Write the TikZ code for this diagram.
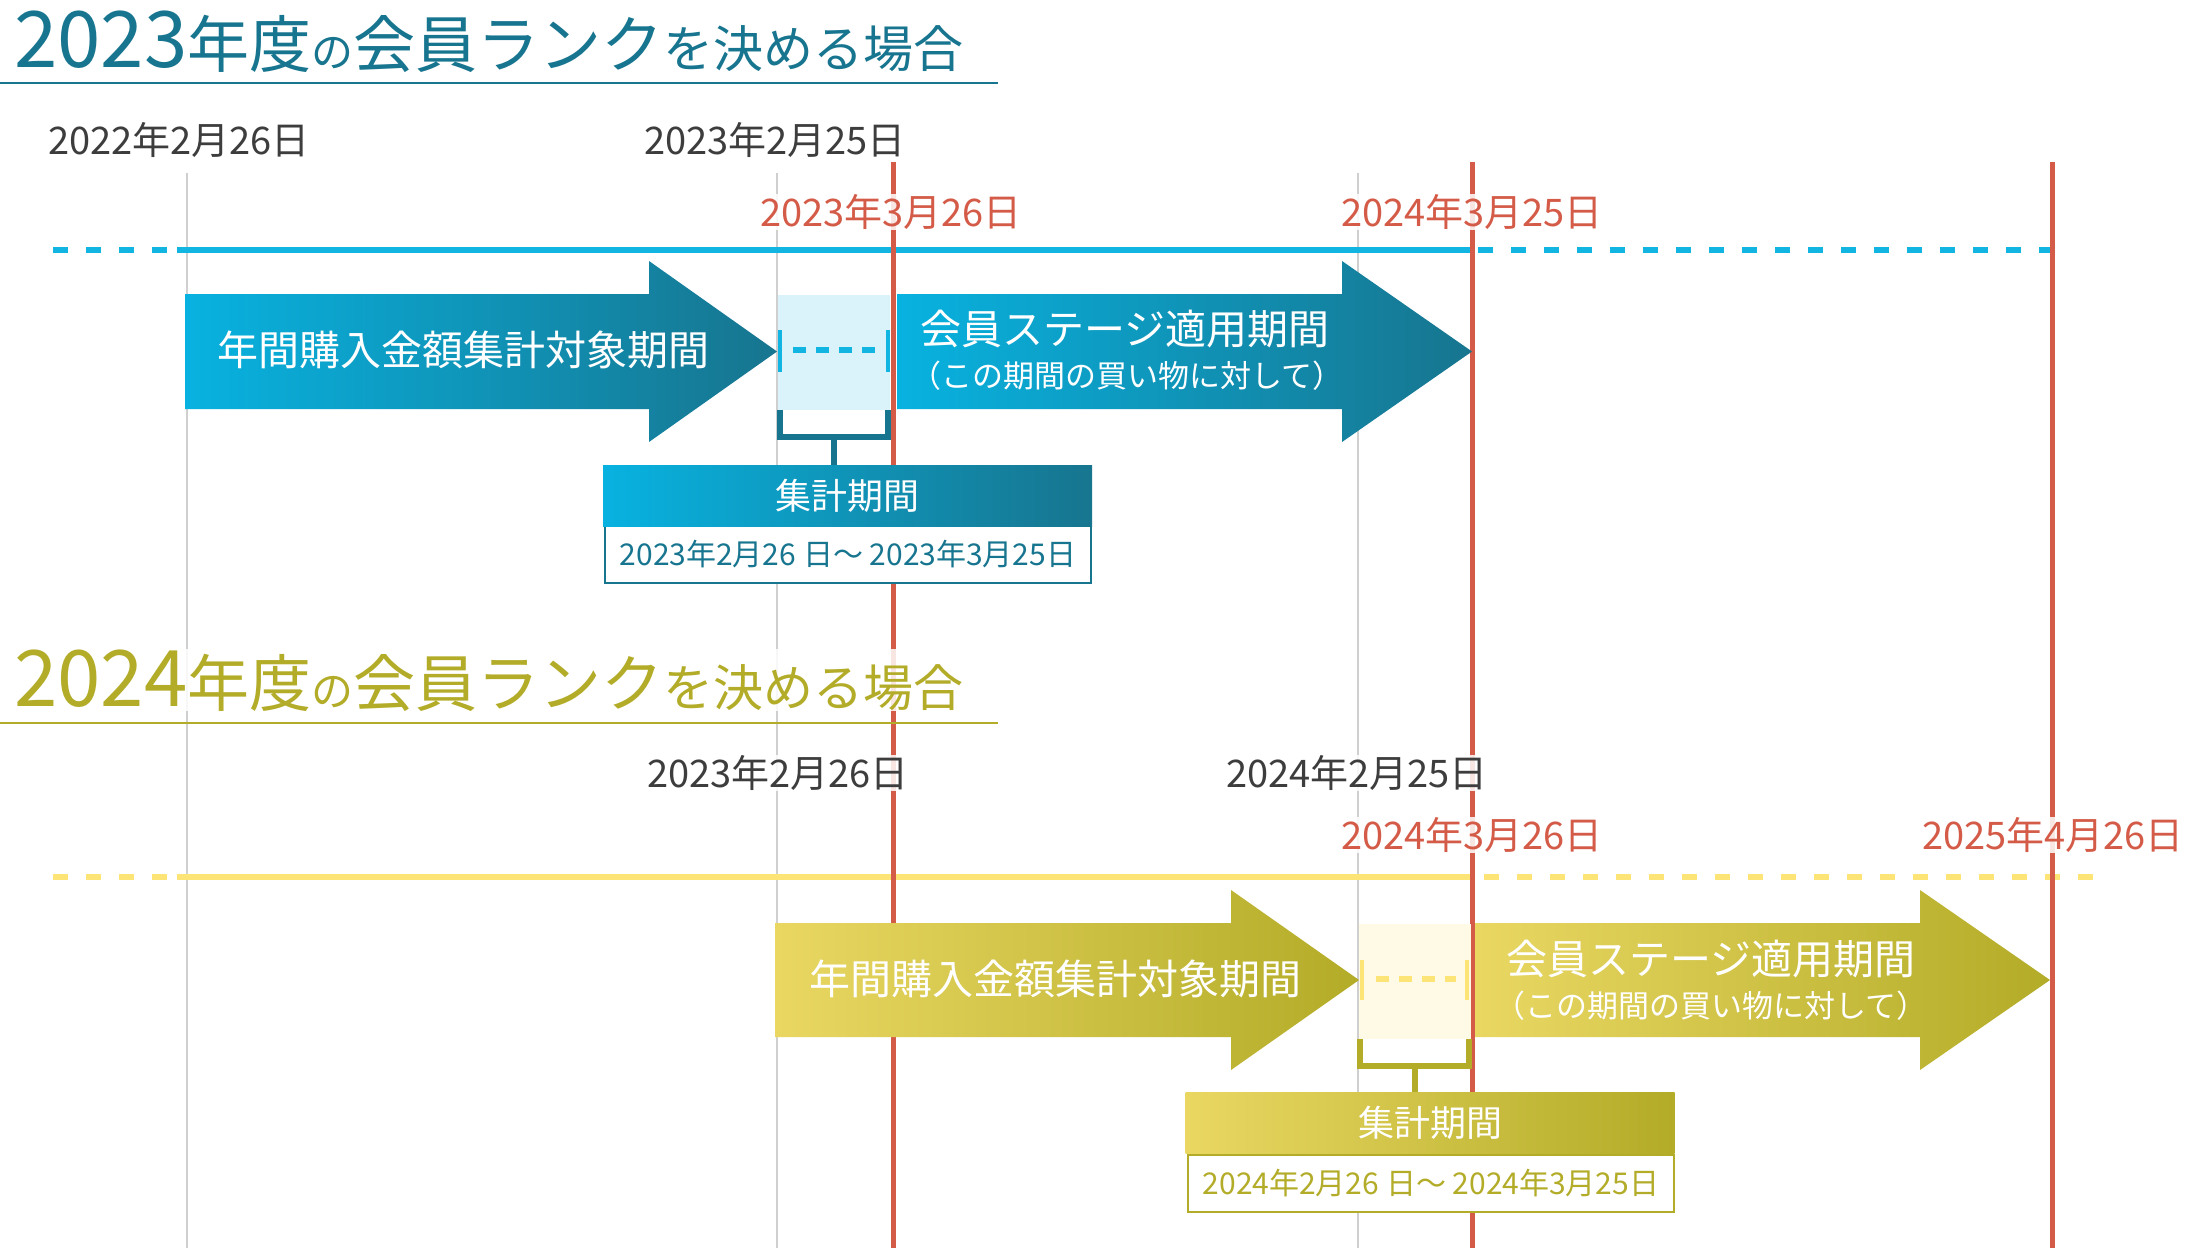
\documentclass[tikz,border=0pt]{standalone}
\usepackage{fontspec}
\setmainfont{Noto Sans CJK JP}
\newcommand{\fsize}[1]{\fontsize{#1}{#1}\selectfont}
\definecolor{tealdark}{HTML}{17758F}
\definecolor{cyanlight}{HTML}{08B2E0}
\definecolor{bluetime}{HTML}{12B5E2}
\definecolor{bluepale}{HTML}{DAF2F9}
\definecolor{olive}{HTML}{B3AC28}
\definecolor{yellowlight}{HTML}{E9D762}
\definecolor{yellowtime}{HTML}{FDE476}
\definecolor{yellowpale}{HTML}{FEFAE6}
\definecolor{redline}{HTML}{D45B47}
\definecolor{greyline}{HTML}{CFCFCF}
\definecolor{datetext}{HTML}{3D3D3D}
\begin{document}
\begin{tikzpicture}[x=1pt,y=-1pt,
  every node/.style={inner sep=0pt},
  halo/.style={fill=white,fill opacity=0.85,text opacity=1},
  gridline/.style={greyline,line width=2pt},
  redmark/.style={redline,line width=5pt},
  datelabel/.style={halo,text=datetext,font=\fsize{38}},
  redlabel/.style={halo,text=redline,font=\fsize{38}},
  titlelabel/.style={halo,anchor=base west},
  timeline/.style={line width=6pt},
  dashline/.style={dash pattern=on 15pt off 18pt},
  arrowtext/.style={text=white,font=\fsize{41}},
  notetext/.style={text=white,font=\fsize{31}},
  dotline/.style={line width=6pt,dash pattern=on 13pt off 10pt},
  tickbar/.style={line width=4pt},
  headbox/.style={minimum width=489pt,minimum height=61pt,text=white,font=\fsize{36}},
  rangebox/.style={minimum width=486pt,minimum height=57pt,fill=white,line width=2pt,font=\fsize{30}},
  palebox/.style={minimum width=112pt,minimum height=115pt},
  bracket/.style={line width=6pt}]
  \useasboundingbox (0,0) rectangle (2199,1248);
  \fill[white] (0,0) rectangle (2199,1248);

  % guide lines
  \foreach \gx in {187,777,1358}
    \draw[gridline] (\gx,173) -- (\gx,1248);

  % timelines
  \draw[timeline,bluetime,dashline] (53,250) -- (177,250);
  \draw[timeline,bluetime] (177,250) -- (1472,250);
  \draw[timeline,bluetime,dashline] (1478,250) -- (2052,250);
  \draw[timeline,yellowtime,dashline] (53,877) -- (177,877);
  \draw[timeline,yellowtime] (177,877) -- (1470,877);
  \draw[timeline,yellowtime,dashline] (1484,877) -- (2094,877);

  \foreach \rx in {893,1472,2052}
    \draw[redmark] (\rx,162) -- (\rx,1248);

  % 2023
  \node[titlelabel,text=tealdark] (title23) at (14,67)
    {\fsize{78}2023\fsize{62}年度\fsize{42}の\fsize{62}会員ランク\fsize{50}を決める場合};
  \draw[tealdark,line width=2pt] (0,83) -- (998,83);

  \node[datelabel] (d22) at (179,140) {2022年2月26日};
  \node[datelabel] (d23) at (775,140) {2023年2月25日};
  \node[redlabel] (r23) at (891,212) {2023年3月26日};
  \node[redlabel] (r24) at (1472,212) {2024年3月25日};

  \shade[left color=cyanlight,right color=tealdark]
    (185,294) -- (649,294) -- (649,261) -- (777,351.5) -- (649,442) -- (649,409) -- (185,409) -- cycle;
  \shade[left color=cyanlight,right color=tealdark]
    (897,294) -- (1342,294) -- (1342,261) -- (1472,351.5) -- (1342,442) -- (1342,409) -- (897,409) -- cycle;
  \node[arrowtext] (sum23) at (463,350) {年間購入金額集計対象期間};
  \node[arrowtext] (stage23) at (1125,329) {会員ステージ適用期間};
  \node[notetext] (note23) at (1127,376) {（この期間の買い物に対して）};

  \node[palebox,fill=bluepale] (agg23) at (834,352) {};
  \draw[tickbar,bluetime] (780,330) -- (780,372);
  \draw[tickbar,bluetime] (888,330) -- (888,372);
  \draw[dotline,bluetime] (793,350) -- (880,350);

  \node[rangebox,draw=tealdark,text=tealdark] (range23) at (848,554.5)
    {2023年2月26 日～ 2023年3月25日};
  \node[headbox,left color=cyanlight,right color=tealdark] (head23) at (847.5,495.5) {集計期間};
  \draw[bracket,tealdark] ([xshift=2pt]agg23.south west) |- ([yshift=-27pt]agg23.south)
    -| ([xshift=-2pt]agg23.south east);
  \draw[bracket,tealdark] ([yshift=-27pt]agg23.south) -- (agg23.south |- head23.north);

  % 2024
  \node[titlelabel,text=olive] (title24) at (14,706)
    {\fsize{78}2024\fsize{62}年度\fsize{42}の\fsize{62}会員ランク\fsize{50}を決める場合};
  \draw[olive,line width=2pt] (0,723) -- (998,723);

  \node[datelabel] (d23b) at (778,773) {2023年2月26日};
  \node[datelabel] (d24) at (1357,773) {2024年2月25日};
  \node[redlabel] (r24b) at (1472,835) {2024年3月26日};
  \node[redlabel] (r25) at (2053,835) {2025年4月26日};

  \shade[left color=yellowlight,right color=olive]
    (775,923) -- (1231,923) -- (1231,890) -- (1359,980) -- (1231,1070) -- (1231,1037) -- (775,1037) -- cycle;
  \shade[left color=yellowlight,right color=olive]
    (1475,923) -- (1920,923) -- (1920,890) -- (2050,980) -- (1920,1070) -- (1920,1037) -- (1475,1037) -- cycle;
  \node[arrowtext] (sum24) at (1055,979) {年間購入金額集計対象期間};
  \node[arrowtext] (stage24) at (1711,959) {会員ステージ適用期間};
  \node[notetext] (note24) at (1711,1006) {（この期間の買い物に対して）};

  \node[palebox,fill=yellowpale] (agg24) at (1414.5,981) {};
  \draw[tickbar,yellowtime] (1362,960) -- (1362,1000);
  \draw[tickbar,yellowtime] (1467,960) -- (1467,1000);
  \draw[dotline,yellowtime] (1376,979) -- (1456,979);

  \node[rangebox,draw=olive,text=olive] (range24) at (1431,1183)
    {2024年2月26 日～ 2024年3月25日};
  \node[headbox,left color=yellowlight,right color=olive] (head24) at (1430,1123) {集計期間};
  \draw[bracket,olive] ([xshift=2pt]agg24.south west) |- ([yshift=-27pt]agg24.south)
    -| ([xshift=-2pt]agg24.south east);
  \draw[bracket,olive] ([yshift=-27pt]agg24.south) -- (agg24.south |- head24.north);
\end{tikzpicture}
\end{document}
